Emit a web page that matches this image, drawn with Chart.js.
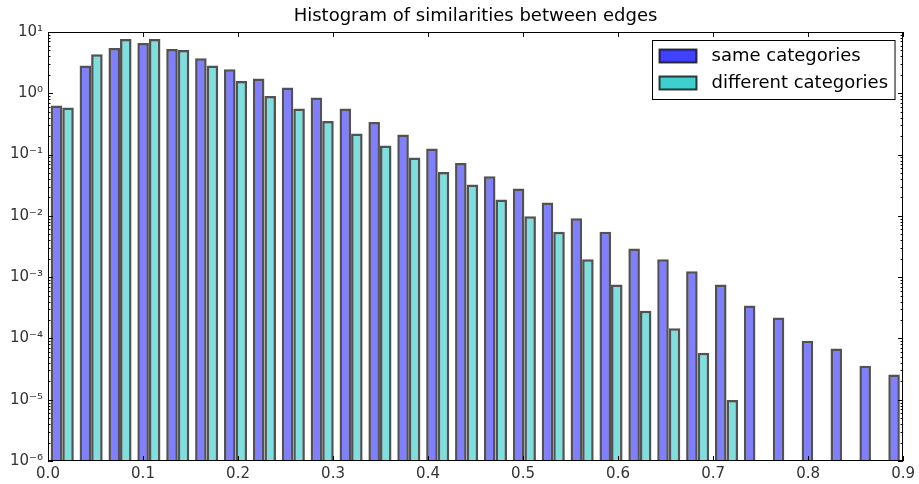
<!DOCTYPE html>
<html>
<head>
<meta charset="utf-8">
<title>Histogram of similarities between edges</title>
<script src="https://cdn.jsdelivr.net/npm/chart.js@4.4.1/dist/chart.umd.min.js"></script>
<style>
    html, body { margin: 0; padding: 0; background: #fff; }
    #wrap { width: 919px; height: 484px; }
</style>
</head>
<body>
<div id="wrap"><canvas id="histChart" width="919" height="484"></canvas></div>
<script>
// bin centres (similarity) and normalised counts
const binCenters = [0.0150, 0.0454, 0.0758, 0.1062, 0.1366, 0.1670, 0.1974, 0.2278, 0.2582, 0.2886,
                    0.3190, 0.3494, 0.3798, 0.4102, 0.4406, 0.4710, 0.5014, 0.5318, 0.5622, 0.5926,
                    0.6230, 0.6534, 0.6838, 0.7142, 0.7446, 0.7750, 0.8054, 0.8358, 0.8662, 0.8966];
const sameCategories = [0.63, 2.83, 5.48, 6.62, 5.28, 3.72, 2.47, 1.74, 1.24, 0.851,
                        0.564, 0.341, 0.212, 0.126, 0.0731, 0.0444, 0.0280, 0.0165, 0.00917, 0.0055,
                        0.00294, 0.00195, 0.00125, 0.00076, 0.000346, 0.00022, 9.16e-5, 6.87e-5, 3.58e-5, 2.59e-5];
const differentCategories = [0.585, 4.33, 7.69, 7.69, 5.09, 2.83, 1.59, 0.904, 0.564, 0.354,
                             0.22, 0.140, 0.0895, 0.0521, 0.0325, 0.0185, 0.00989, 0.00548, 0.00195, 0.00076,
                             0.000282, 0.000146, 5.83e-5, 9.9e-6, null, null, null, null, null, null];
const seriesNames = ['same categories', 'different categories'];
const xTicks = [0, 0.1, 0.2, 0.3, 0.4, 0.5, 0.6, 0.7, 0.8, 0.9];
const yTicks = [1e-6, 1e-5, 1e-4, 1e-3, 1e-2, 1e-1, 1e0, 1e1];
const yTickLabels = ['10\u207B\u2076', '10\u207B\u2075', '10\u207B\u2074', '10\u207B\u00B3',
                     '10\u207B\u00B2', '10\u207B\u00B9', '10\u2070', '10\u00B9'];

const FONT = "'DejaVu Sans', 'Liberation Sans', sans-serif";

// matplotlib-ish frame with inward ticks (major + log minor)
const frameTicks = {
    id: 'frameTicks',
    afterDatasetsDraw(chart) {
        const { ctx, chartArea: a, scales: { x, y } } = chart;
        ctx.save();
        ctx.strokeStyle = '#000';
        ctx.lineWidth = 1;
        ctx.beginPath();
        xTicks.forEach(v => {
            const px = Math.round(x.getPixelForValue(v)) + 0.5;
            ctx.moveTo(px, a.bottom); ctx.lineTo(px, a.bottom - 5);
            ctx.moveTo(px, a.top); ctx.lineTo(px, a.top + 5);
        });
        yTicks.forEach((v, i) => {
            const py = Math.round(y.getPixelForValue(v)) + 0.5;
            ctx.moveTo(a.left, py); ctx.lineTo(a.left + 5, py);
            ctx.moveTo(a.right, py); ctx.lineTo(a.right - 5, py);
            if (i < yTicks.length - 1) {
                for (let m = 2; m <= 9; m++) {
                    const pm = Math.round(y.getPixelForValue(v * m)) + 0.5;
                    ctx.moveTo(a.left, pm); ctx.lineTo(a.left + 2.5, pm);
                    ctx.moveTo(a.right, pm); ctx.lineTo(a.right - 2.5, pm);
                }
            }
        });
        ctx.stroke();
        ctx.strokeRect(Math.round(a.left) + 0.5, Math.round(a.top) + 0.5,
                       Math.round(a.right - a.left) - 1, Math.round(a.bottom - a.top) - 1);
        ctx.restore();
    }
};

// legend box in the upper right corner of the axes
const boxLegend = {
    id: 'boxLegend',
    afterDraw(chart) {
        const { ctx, chartArea: a } = chart;
        ctx.save();
        ctx.font = '18px ' + FONT;
        const textW = Math.max(...seriesNames.map(s => ctx.measureText(s).width));
        const w = 6 + 38 + 15 + textW + 7;
        const h = 59;
        const left = Math.round(a.right - 9 - w) + 0.5;
        const top = Math.round(a.top + 8) + 0.5;
        ctx.fillStyle = '#fff';
        ctx.fillRect(left, top, w, h);
        ctx.strokeStyle = '#000';
        ctx.lineWidth = 1;
        ctx.strokeRect(left, top, w, h);
        const fills = ['rgba(0,0,255,0.75)', 'rgba(0,191,191,0.75)'];
        seriesNames.forEach((name, i) => {
            const py = top + 9 + i * 27;
            ctx.fillStyle = fills[i];
            ctx.fillRect(left + 7, py, 37, 13);
            ctx.strokeStyle = 'rgba(0,0,0,0.75)';
            ctx.lineWidth = 2;
            ctx.strokeRect(left + 7, py, 37, 13);
            ctx.fillStyle = '#000';
            ctx.textBaseline = 'middle';
            ctx.textAlign = 'left';
            ctx.fillText(name, left + 59, py + 7);
        });
        ctx.restore();
    }
};

const ctx = document.getElementById('histChart').getContext('2d');

const histChart = new Chart(ctx, {
    type: 'bar',
    data: {
        datasets: [
            {
                label: seriesNames[0],
                data: binCenters.map((c, i) => ({ x: c, y: sameCategories[i] })),
                backgroundColor: 'rgba(0,0,255,0.5)',
                borderColor: 'rgba(0,0,0,0.68)',
                borderWidth: 2.5,
            },
            {
                label: seriesNames[1],
                data: binCenters.map((c, i) => ({ x: c, y: differentCategories[i] })),
                backgroundColor: 'rgba(0,191,191,0.5)',
                borderColor: 'rgba(0,0,0,0.68)',
                borderWidth: 2.5,
            }
        ]
    },
    options: {
        responsive: false,
        animation: false,
        categoryPercentage: 0.8,
        barPercentage: 1.0,
        layout: { padding: { right: 12, left: 0, top: 0, bottom: 0 } },
        scales: {
            x: {
                type: 'linear',
                min: 0,
                max: 0.9,
                offset: false,
                grid: { display: false, offset: false, drawTicks: false },
                border: { display: false },
                afterBuildTicks: scale => { scale.ticks = xTicks.map(v => ({ value: v })); },
                afterFit: scale => { scale.height = 23; },
                ticks: {
                    callback: value => value.toFixed(1),
                    font: { family: FONT, size: 15 },
                    color: '#333',
                    padding: 4,
                    maxRotation: 0
                }
            },
            y: {
                type: 'logarithmic',
                min: 1e-6,
                max: 10,
                grid: { display: false, drawTicks: false },
                border: { display: false },
                afterBuildTicks: scale => { scale.ticks = yTicks.map(v => ({ value: v })); },
                afterFit: scale => { scale.width = 48; },
                ticks: {
                    callback: value => yTickLabels[yTicks.indexOf(value)] ?? '',
                    font: { family: FONT, size: 15 },
                    color: '#333',
                    padding: 5
                }
            }
        },
        plugins: {
            legend: { display: false },
            tooltip: { enabled: false },
            title: {
                display: true,
                text: 'Histogram of similarities between edges',
                fullSize: false,
                color: '#000',
                font: { family: FONT, size: 18, weight: 'normal', lineHeight: 1.2 },
                padding: { top: 6, bottom: 4.4 }
            }
        }
    },
    plugins: [frameTicks, boxLegend]
});
</script>
</body>
</html>
